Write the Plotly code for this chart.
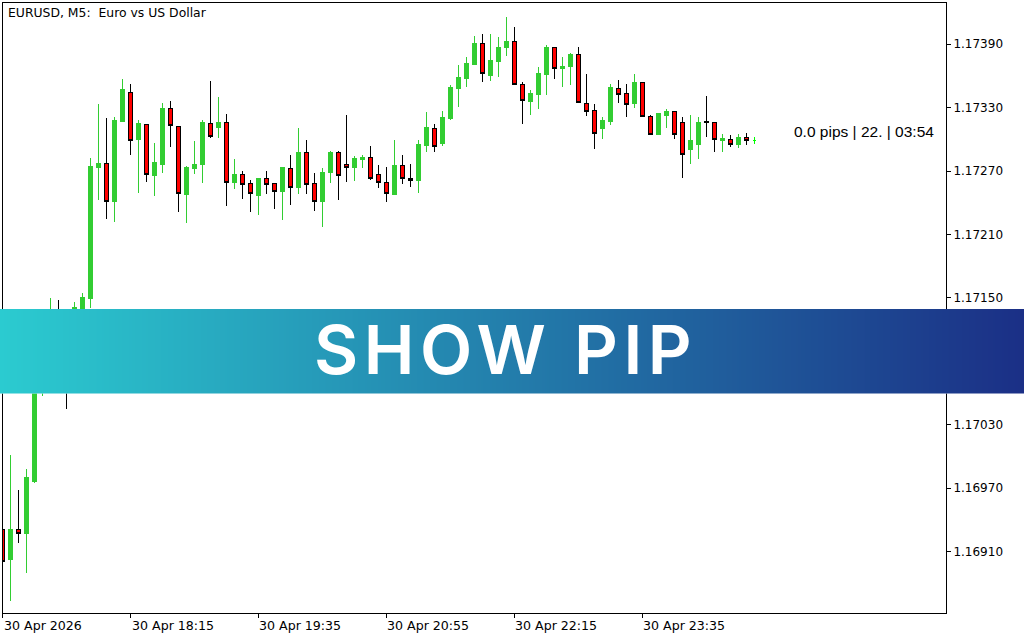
#!/usr/bin/env python3
import plotly.graph_objects as go

opens = [1.16931, 1.16902, 1.16931, 1.16927, 1.16976, 1.17072, 1.17105, 1.17131, 1.17110, 1.17082,
         1.17140, 1.17149, 1.17273, 1.17277, 1.17241, 1.17317, 1.17344, 1.17300, 1.17314, 1.17266,
         1.17276, 1.17329, 1.17312, 1.17248, 1.17272, 1.17276, 1.17315, 1.17311, 1.17316, 1.17259,
         1.17267, 1.17258, 1.17247, 1.17263, 1.17258, 1.17251, 1.17272, 1.17254, 1.17288, 1.17258,
         1.17241, 1.17269, 1.17288, 1.17276, 1.17273, 1.17281, 1.17283, 1.17267, 1.17259, 1.17248,
         1.17275, 1.17263, 1.17261, 1.17294, 1.17310, 1.17296, 1.17320, 1.17348, 1.17358, 1.17371,
         1.17391, 1.17360, 1.17374, 1.17387, 1.17393, 1.17352, 1.17336, 1.17342, 1.17361, 1.17387,
         1.17367, 1.17369, 1.17380, 1.17334, 1.17327, 1.17310, 1.17317, 1.17348, 1.17343, 1.17334,
         1.17354, 1.17322, 1.17305, 1.17323, 1.17326, 1.17316, 1.17290, 1.17295, 1.17317, 1.17316,
         1.17299, 1.17300, 1.17295, 1.17302]
highs = [1.16931, 1.17001, 1.16968, 1.16988, 1.17087, 1.17120, 1.17150, 1.17148, 1.17124, 1.17146,
         1.17155, 1.17282, 1.17333, 1.17320, 1.17321, 1.17357, 1.17352, 1.17318, 1.17314, 1.17297,
         1.17334, 1.17336, 1.17312, 1.17275, 1.17298, 1.17318, 1.17355, 1.17340, 1.17324, 1.17281,
         1.17270, 1.17262, 1.17263, 1.17270, 1.17259, 1.17274, 1.17285, 1.17311, 1.17299, 1.17268,
         1.17273, 1.17289, 1.17289, 1.17323, 1.17284, 1.17285, 1.17294, 1.17276, 1.17274, 1.17299,
         1.17285, 1.17277, 1.17299, 1.17326, 1.17315, 1.17327, 1.17351, 1.17370, 1.17378, 1.17398,
         1.17400, 1.17400, 1.17397, 1.17416, 1.17406, 1.17354, 1.17347, 1.17368, 1.17389, 1.17387,
         1.17378, 1.17382, 1.17387, 1.17362, 1.17333, 1.17321, 1.17352, 1.17356, 1.17352, 1.17362,
         1.17354, 1.17323, 1.17325, 1.17329, 1.17326, 1.17321, 1.17323, 1.17321, 1.17341, 1.17316,
         1.17305, 1.17304, 1.17305, 1.17306]
lows = [1.16901, 1.16863, 1.16918, 1.16890, 1.16975, 1.17057, 1.17096, 1.17091, 1.17045, 1.17074,
        1.17135, 1.17140, 1.17243, 1.17225, 1.17222, 1.17316, 1.17285, 1.17249, 1.17260, 1.17246,
        1.17268, 1.17293, 1.17231, 1.17221, 1.17267, 1.17259, 1.17301, 1.17301, 1.17237, 1.17253,
        1.17244, 1.17231, 1.17228, 1.17248, 1.17234, 1.17224, 1.17238, 1.17248, 1.17248, 1.17232,
        1.17217, 1.17259, 1.17243, 1.17260, 1.17261, 1.17273, 1.17262, 1.17254, 1.17241, 1.17248,
        1.17258, 1.17255, 1.17249, 1.17288, 1.17288, 1.17294, 1.17318, 1.17331, 1.17350, 1.17371,
        1.17354, 1.17355, 1.17359, 1.17379, 1.17351, 1.17315, 1.17323, 1.17329, 1.17342, 1.17357,
        1.17350, 1.17351, 1.17335, 1.17322, 1.17291, 1.17300, 1.17314, 1.17334, 1.17321, 1.17330,
        1.17322, 1.17304, 1.17305, 1.17311, 1.17300, 1.17263, 1.17277, 1.17281, 1.17302, 1.17288,
        1.17288, 1.17293, 1.17292, 1.17295]
closes = [1.16901, 1.16931, 1.16927, 1.16980, 1.17077, 1.17110, 1.17137, 1.17105, 1.17080, 1.17141,
          1.17150, 1.17274, 1.17277, 1.17241, 1.17318, 1.17347, 1.17299, 1.17315, 1.17267, 1.17278,
          1.17329, 1.17313, 1.17249, 1.17273, 1.17276, 1.17316, 1.17303, 1.17316, 1.17259, 1.17267,
          1.17257, 1.17249, 1.17263, 1.17257, 1.17251, 1.17273, 1.17254, 1.17288, 1.17257, 1.17241,
          1.17269, 1.17288, 1.17266, 1.17273, 1.17282, 1.17283, 1.17263, 1.17259, 1.17249, 1.17275,
          1.17263, 1.17261, 1.17295, 1.17311, 1.17293, 1.17321, 1.17349, 1.17359, 1.17372, 1.17391,
          1.17362, 1.17375, 1.17387, 1.17393, 1.17352, 1.17337, 1.17343, 1.17362, 1.17387, 1.17367,
          1.17369, 1.17380, 1.17335, 1.17326, 1.17306, 1.17318, 1.17349, 1.17342, 1.17333, 1.17354,
          1.17322, 1.17305, 1.17324, 1.17326, 1.17305, 1.17286, 1.17299, 1.17316, 1.17316, 1.17300,
          1.17301, 1.17295, 1.17302, 1.17299]

# last (still open) bar, drawn in its own colour
last_open = [1.17299]
last_high = [1.17302]
last_low = [1.17296]
last_close = [1.17299]

price_ticks = [1.17390, 1.17330, 1.17270, 1.17210, 1.17150, 1.17090, 1.17030, 1.16970, 1.16910]
time_tick_bars = [0, 16, 32, 48, 64, 80]
time_tick_labels = ["30 Apr 2026", "30 Apr 18:15", "30 Apr 19:35",
                    "30 Apr 20:55", "30 Apr 22:15", "30 Apr 23:35"]
banner_stops = [0, 1]

WIDTH, HEIGHT = 1024, 640
UP, DOWN, LAST = "#32CD32", "#FF0000", "#00FF00"
AXIS_FONT = dict(family="DejaVu Sans", size=12, color="#000000")

# page margin off, candles on whole pixels, banner title spaced out like the original
POST_SCRIPT = """
document.body.style.margin = '0';
document.querySelectorAll('.boxes path').forEach(function (p) { p.style.shapeRendering = 'crispEdges'; });
document.querySelectorAll('.annotation-text').forEach(function (t) {
    if (t.textContent === 'SHOW PIP') { t.style.letterSpacing = '5.5px'; }
});
"""

bars = list(range(len(opens)))

fig = go.Figure()

fig.add_trace(go.Candlestick(
    x=bars, open=opens, high=highs, low=lows, close=closes,
    increasing=dict(line=dict(color=UP, width=1), fillcolor=UP),
    decreasing=dict(line=dict(color="#000000", width=1), fillcolor=DOWN),
    showlegend=False,
))
fig.add_trace(go.Candlestick(
    x=[len(opens)], open=last_open, high=last_high, low=last_low, close=last_close,
    increasing=dict(line=dict(color=LAST, width=1), fillcolor=LAST),
    decreasing=dict(line=dict(color=LAST, width=1), fillcolor=LAST),
    showlegend=False,
))

# banner across the whole image, on its own axes so it sits over the candles
fig.add_trace(go.Heatmap(
    z=[banner_stops, banner_stops], x=[0, 1], y=[0, 1],
    xaxis="x2", yaxis="y2",
    zsmooth="best", zmin=0, zmax=1,
    colorscale=[[0, "#2BCBD0"], [1, "#1B2F86"]],
    showscale=False, hoverinfo="skip",
))

annotations = [
    dict(text="EURUSD, M5:  Euro vs US Dollar", xref="paper", yref="paper",
         x=5.5 / WIDTH, y=1 - 13 / HEIGHT, xanchor="left", yanchor="middle",
         showarrow=False, font=dict(AXIS_FONT, size=12.4)),
    dict(text="0.0 pips | 22. | 03:54", xref="paper", yref="paper",
         x=936 / WIDTH, y=1 - 131 / HEIGHT, xanchor="right", yanchor="middle",
         showarrow=False, font=dict(family="Liberation Sans", size=15.5, color="#000000")),
    dict(text="SHOW PIP", xref="paper", yref="paper",
         x=505 / WIDTH, y=1 - 349 / HEIGHT, xanchor="center", yanchor="middle",
         showarrow=False, font=dict(family="Inter", size=68, color="#FFFFFF", weight=600)),
]
for bar, label in zip(time_tick_bars, time_tick_labels):
    annotations.append(dict(text=label, xref="x", yref="paper", x=bar, y=1 - 625 / HEIGHT,
                            xanchor="left", yanchor="middle", xshift=-1,
                            showarrow=False, font=dict(AXIS_FONT, size=12.6)))

fig.update_layout(
    autosize=False,
    width=WIDTH,
    height=HEIGHT,
    margin=dict(l=0, r=0, t=0, b=0),
    paper_bgcolor="#FFFFFF",
    plot_bgcolor="#FFFFFF",
    boxgap=0.38,
    showlegend=False,
    annotations=annotations,
    xaxis=dict(
        domain=[2.5 / WIDTH, 946 / WIDTH],
        range=[0, 117.94],
        rangeslider=dict(visible=False),
        tickvals=time_tick_bars,
        showticklabels=False,
        ticks="outside", ticklen=4, tickwidth=1, tickcolor="#000000",
        showgrid=False, zeroline=False,
        showline=True, mirror=True, linecolor="#000000", linewidth=1,
    ),
    yaxis=dict(
        domain=[1 - 613 / HEIGHT, 1 - 2.5 / HEIGHT],
        range=[1.168518, 1.174295],
        side="right",
        tickvals=price_ticks,
        tickformat=".5f",
        tickfont=AXIS_FONT,
        ticks="outside", ticklen=4, tickwidth=1, tickcolor="#000000",
        showgrid=False, zeroline=False,
        showline=True, mirror=True, linecolor="#000000", linewidth=1,
    ),
    xaxis2=dict(domain=[0, 1], range=[0, 1], visible=False, anchor="y2", fixedrange=True),
    yaxis2=dict(domain=[1 - 393.5 / HEIGHT, 1 - 309 / HEIGHT], range=[0, 1],
                visible=False, anchor="x2", fixedrange=True),
)

fig.write_html("out.html", post_script=POST_SCRIPT, config=dict(displayModeBar=False))
